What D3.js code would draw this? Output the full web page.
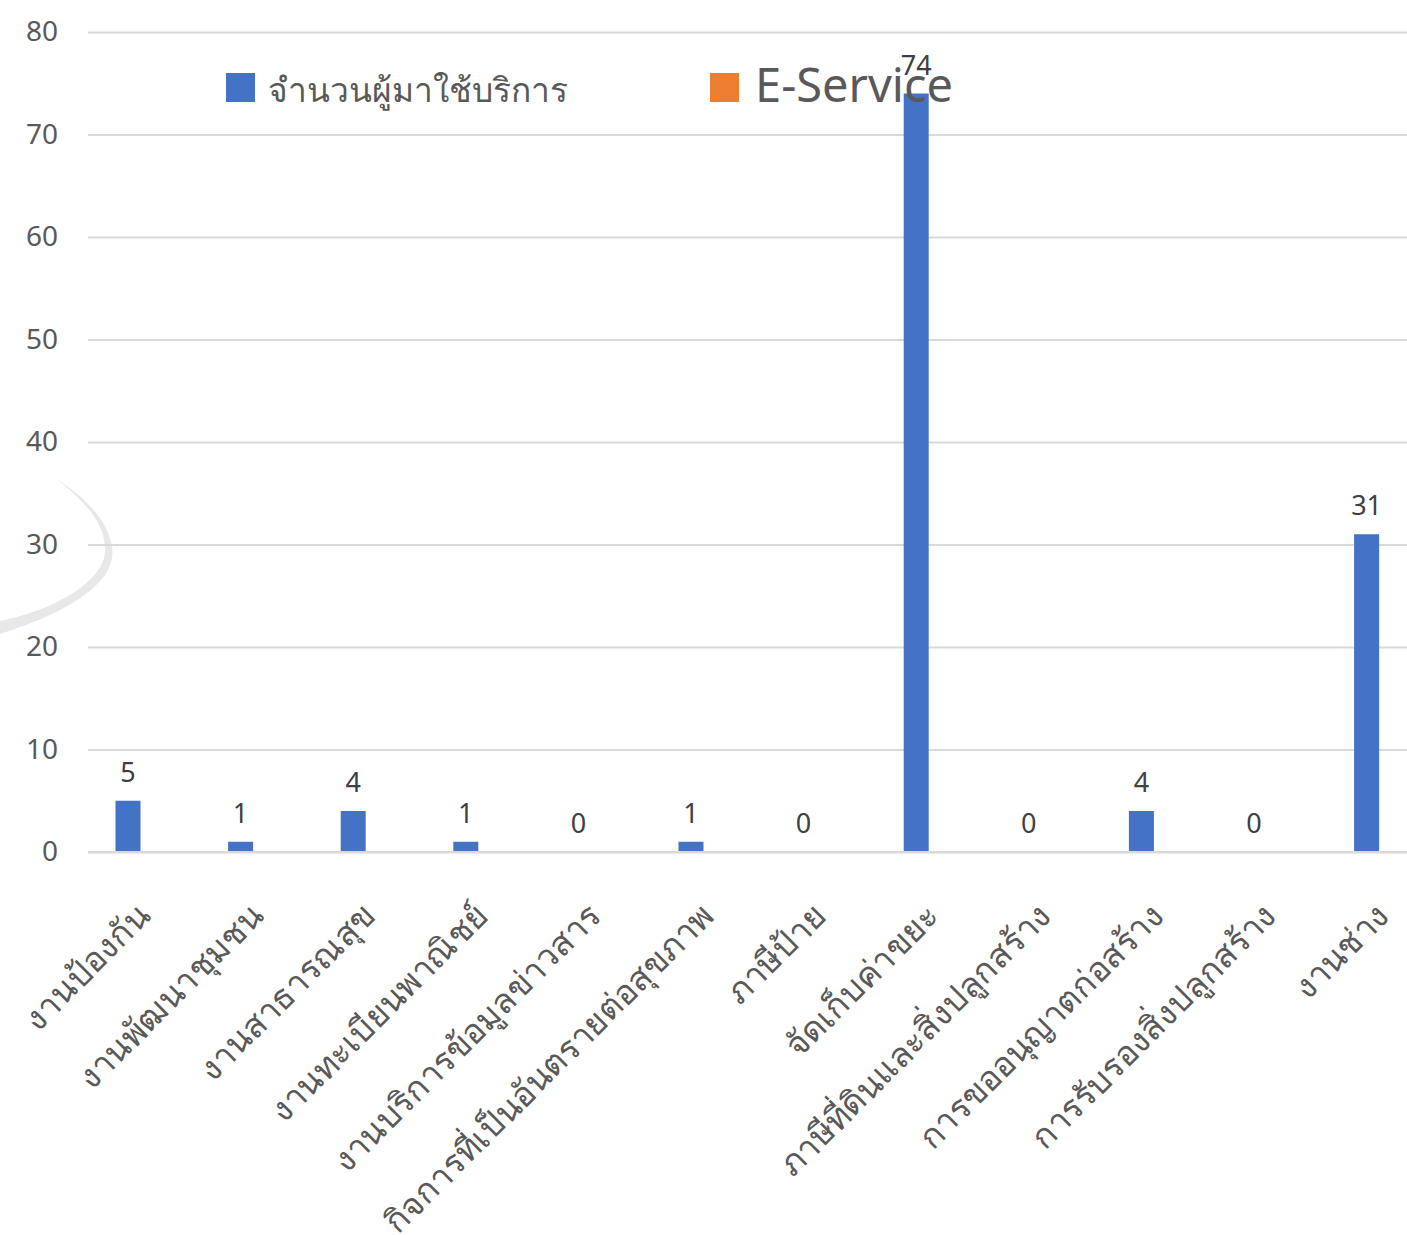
<!DOCTYPE html>
<html><head><meta charset="utf-8">
<script src="https://cdn.jsdelivr.net/npm/d3@7"></script>
<style>html,body{margin:0;padding:0;background:#fff;overflow:hidden}</style>
</head><body>
<svg id="chart" width="1407" height="1235"></svg>
<script>
const categories = ["งานป้องกัน","งานพัฒนาชุมชน","งานสาธารณสุข","งานทะเบียนพาณิชย์","งานบริการข้อมูลข่าวสาร","กิจการที่เป็นอันตรายต่อสุขภาพ","ภาษีป้าย","จัดเก็บค่าขยะ","ภาษีที่ดินและสิ่งปลูกสร้าง","การขออนุญาตก่อสร้าง","การรับรองสิ่งปลูกสร้าง","งานช่าง"];
const seriesNames = ["จำนวนผู้มาใช้บริการ","E-Service"];
const visitors = [5,1,4,1,0,1,0,74,0,4,0,31];
const eService = [null,null,null,null,null,null,null,null,null,null,null,null];
const yTicks = [0,10,20,30,40,50,60,70,80];
const colors = ["#4472C4","#ED7D31"];

const svg = d3.select("#chart");
const font = "'Noto Sans', 'Open Sans', sans-serif";

// watermark arc
svg.append("path")
  .attr("d","M0,634 C60,615 118,585 112,547 C108,520 85,497 55,478 C80,497 104,520 105,547 C108,580 55,610 0,621 Z")
  .attr("fill","#e8e8e8");

const x0 = d3.scaleBand().domain(categories).range([84.2, 84.2 + 12*112.6]).padding(0);
const x1 = d3.scaleBand().domain(seriesNames).range([-25, 25]).padding(0);
const y = d3.scaleLinear().domain([0,80]).range([852,32]);

// gridlines
const yAxis = d3.axisLeft(y).tickValues(yTicks).tickSize(-(1407-88)).tickPadding(30);
const gy = svg.append("g").attr("transform","translate(88,0)").call(yAxis);
gy.select(".domain").remove();
gy.selectAll(".tick line").attr("stroke","#d9d9d9").attr("stroke-width",2);
gy.selectAll(".tick text").attr("fill","#595959").attr("font-size","28px").attr("font-family",font);

const data = [visitors, eService];
seriesNames.forEach((s,si)=>{
  svg.append("g").selectAll("rect")
    .data(categories.map((c,i)=>({c, v:data[si][i]})).filter(d=>d.v!=null))
    .join("rect")
    .attr("x", d=>x0(d.c)+x0.bandwidth()/2 + x1(s))
    .attr("width", x1.bandwidth())
    .attr("y", d=>y(d.v))
    .attr("height", d=>y(0)-y(d.v))
    .attr("fill", colors[si]);
});

// data labels (blue only)
svg.append("g").selectAll("text")
  .data(categories.map((c,i)=>({c, v:visitors[i]})))
  .join("text")
  .attr("x", d=>x0(d.c)+x0.bandwidth()/2 + x1(seriesNames[0]) + x1.bandwidth()/2)
  .attr("y", d=>y(d.v)-19)
  .attr("text-anchor","middle")
  .attr("fill","#404040")
  .attr("font-size","27px")
  .attr("font-family",font)
  .text(d=>d.v);

// x axis labels
const xAxis = d3.axisBottom(x0).tickSize(0).tickPadding(0);
const gx = svg.append("g").attr("transform","translate(0,852)").call(xAxis);
gx.select(".domain").attr("stroke","#d9d9d9").attr("stroke-width",2).attr("d","M88,0H1407");
gx.selectAll(".tick text")
  .attr("fill","#595959").attr("font-size","34px").attr("font-family",font)
  .attr("text-anchor","end")
  .attr("dy",0)
  .attr("transform","translate(12,66) rotate(-45)");

// legend
const leg = [{n:seriesNames[0], x:226, tx:268, fs:33.5},{n:seriesNames[1], x:710, tx:755, fs:47}];
leg.forEach((l,i)=>{
  svg.append("rect").attr("x",l.x).attr("y",73).attr("width",29).attr("height",29).attr("fill",colors[i]);
  svg.append("text").attr("x",l.tx).attr("y",102).attr("fill","#595959")
    .attr("font-size",l.fs+"px").attr("font-family",font).text(l.n);
});
</script>
</body></html>
